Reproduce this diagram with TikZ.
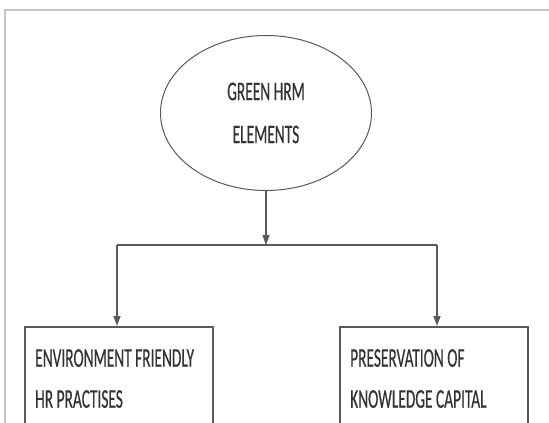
\documentclass[tikz,border=0pt]{standalone}
\usepackage{fontspec}
\usetikzlibrary{shapes.geometric,arrows.meta}
\newfontfamily\narrowfont[FakeStretch=0.57,FakeBold=0.4]{Carlito}
\definecolor{framegray}{HTML}{C4C4C4}
\definecolor{linegray}{HTML}{5A5A5A}
\definecolor{textgray}{HTML}{333333}
\begin{document}
\begin{tikzpicture}[x=1pt,y=-1pt,
  every node/.style={font=\narrowfont\fontsize{27}{41}\selectfont, text=textgray},
  root/.style={ellipse, draw=linegray, line width=1pt, minimum width=211pt, minimum height=155pt,
    inner sep=0pt, align=center, font=\narrowfont\fontsize{27}{43}\selectfont},
  leafbox/.style={rectangle, draw=linegray, line width=1.6pt, minimum width=188pt,
    minimum height=140pt, anchor=north west, inner sep=0pt},
  leaftext/.style={anchor=north west, align=left, inner sep=0pt},
  link/.style={draw=linegray, line width=1.5pt},
  feed/.style={link, -{Triangle[length=10pt,width=7pt]}}]
\useasboundingbox (0,0) rectangle (549,423);
\fill[white] (0,0) rectangle (549,423);
% light page frame
\draw[framegray, line width=1.3pt] (5,440) -- (5,10) -- (560,10);

% root element
\node[root] (root) at (266,113) {GREEN HRM\\ELEMENTS};

% branch boxes (open at the bottom of the page)
\node[leafbox] (left) at (24,326) {};
\node[leafbox] (right) at (339,326) {};
\node[leaftext] (lefttext) at (35,349) {ENVIRONMENT FRIENDLY\\HR PRACTISES};
\node[leaftext] (righttext) at (350,349) {PRESERVATION OF\\KNOWLEDGE CAPITAL};

% distribution bus
\coordinate (busL) at (117,245);
\coordinate (busR) at (437,245);
\coordinate (busM) at (root.south |- busL);

\draw[feed] (root.south) -- (busM);
\draw[link] (busL) -- (busR);
\draw[feed] (busL) -- (busL |- left.north);
\draw[feed] (busR) -- (busR |- right.north);
\end{tikzpicture}
\end{document}
